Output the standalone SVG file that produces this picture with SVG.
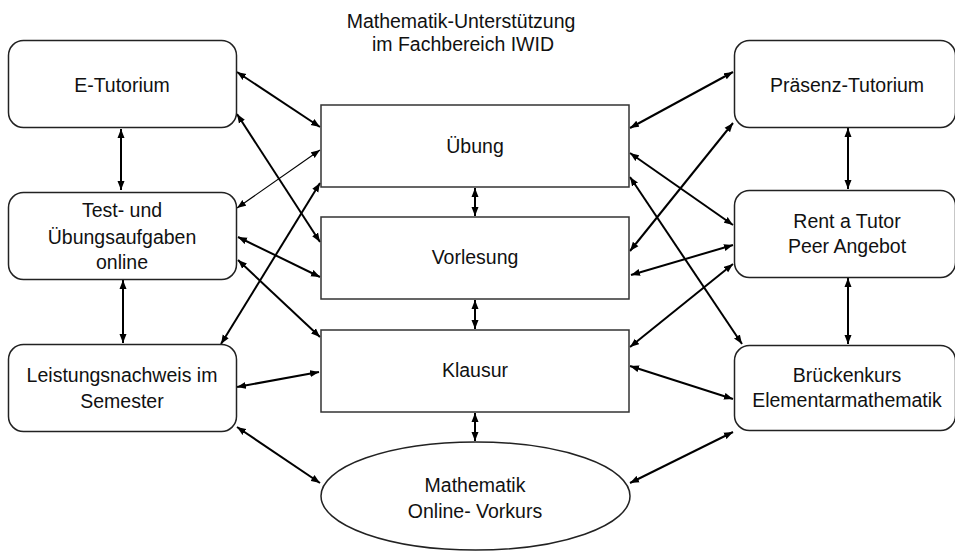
<svg xmlns="http://www.w3.org/2000/svg" width="955" height="552" viewBox="0 0 955 552">
<style>
.box{fill:#fff;stroke:#222;stroke-width:1.5}
.cbox{fill:#fff;stroke:#333;stroke-width:1.5}
.t{font-family:"Liberation Sans",Arial,sans-serif;font-size:19.5px;fill:#111;text-anchor:middle}
.c{stroke:#000;stroke-width:2;fill:none;marker-start:url(#ah);marker-end:url(#ah)}
.thin{stroke-width:1.2}
</style>
<defs>
<marker id="ah" markerUnits="userSpaceOnUse" markerWidth="10" markerHeight="8" refX="9" refY="3.5" orient="auto-start-reverse" viewBox="0 0 10 7">
<path d="M0,0 L9,3.5 L0,7 z" fill="#000"/>
</marker>
</defs>
<rect width="955" height="552" fill="#fff"/>
<g id="title">
<text class="t" x="461" y="28">Mathematik-Unterstützung</text>
<text class="t" x="463" y="51">im Fachbereich IWID</text>
</g>
<g id="connectors">
<line class="c" x1="121" y1="129" x2="121" y2="190"/>
<line class="c" x1="123" y1="280" x2="123" y2="343"/>
<line class="c" x1="848" y1="128" x2="848" y2="189"/>
<line class="c" x1="848" y1="278" x2="848" y2="344"/>
<line class="c" x1="475" y1="188" x2="475" y2="216"/>
<line class="c" x1="475" y1="300" x2="475" y2="329"/>
<line class="c" x1="475" y1="413" x2="475" y2="441"/>
<line class="c" x1="237" y1="72" x2="320" y2="127"/>
<line class="c" x1="237" y1="114" x2="320" y2="242"/>
<line class="c thin" x1="237" y1="208" x2="320" y2="150"/>
<line class="c" x1="238" y1="237" x2="320" y2="277"/>
<line class="c" x1="238" y1="260" x2="320" y2="337"/>
<line class="c" x1="221" y1="344" x2="320" y2="183"/>
<line class="c" x1="237" y1="387" x2="319" y2="372"/>
<line class="c" x1="237" y1="427" x2="320" y2="483"/>
<line class="c" x1="733" y1="72" x2="630" y2="128"/>
<line class="c" x1="733" y1="123" x2="630" y2="251"/>
<line class="c" x1="630" y1="153" x2="733" y2="225"/>
<line class="c" x1="630" y1="177" x2="742" y2="344"/>
<line class="c" x1="631" y1="275" x2="733" y2="245"/>
<line class="c" x1="630" y1="347" x2="733" y2="264"/>
<line class="c" x1="630" y1="366" x2="733" y2="399"/>
<line class="c" x1="630" y1="483" x2="733" y2="432"/>
</g>
<g id="e-tutorium">
<rect class="box" x="8.5" y="40.5" width="228" height="87" rx="15"/>
<text class="t" x="122" y="92">E-Tutorium</text>
</g>
<g id="test-uebung">
<rect class="box" x="8.5" y="192.5" width="228" height="87" rx="15"/>
<text class="t" x="122" y="217">Test- und</text>
<text class="t" x="122" y="244">Übungsaufgaben</text>
<text class="t" x="122" y="269">online</text>
</g>
<g id="leistungsnachweis">
<rect class="box" x="8.5" y="344.5" width="228" height="87" rx="15"/>
<text class="t" x="122" y="382">Leistungsnachweis im</text>
<text class="t" x="122" y="408">Semester</text>
</g>
<g id="praesenz">
<rect class="box" x="734.5" y="40.5" width="221" height="87" rx="15"/>
<text class="t" x="847" y="92">Präsenz-Tutorium</text>
</g>
<g id="rent-a-tutor">
<rect class="box" x="734.5" y="190.5" width="221" height="87" rx="15"/>
<text class="t" x="847" y="228">Rent a Tutor</text>
<text class="t" x="847" y="253">Peer Angebot</text>
</g>
<g id="brueckenkurs">
<rect class="box" x="734.5" y="345.5" width="221" height="85" rx="15"/>
<text class="t" x="847" y="382">Brückenkurs</text>
<text class="t" x="847" y="407">Elementarmathematik</text>
</g>
<g id="uebung">
<rect class="cbox" x="321" y="105" width="308" height="82"/>
<text class="t" x="475" y="153">Übung</text>
</g>
<g id="vorlesung">
<rect class="cbox" x="321" y="217" width="308" height="82"/>
<text class="t" x="475" y="264">Vorlesung</text>
</g>
<g id="klausur">
<rect class="cbox" x="321" y="330" width="308" height="82"/>
<text class="t" x="475" y="377">Klausur</text>
</g>
<g id="vorkurs">
<ellipse class="box" cx="475.5" cy="496" rx="154.5" ry="54"/>
<text class="t" x="475" y="492">Mathematik</text>
<text class="t" x="475" y="518">Online- Vorkurs</text>
</g>
</svg>
